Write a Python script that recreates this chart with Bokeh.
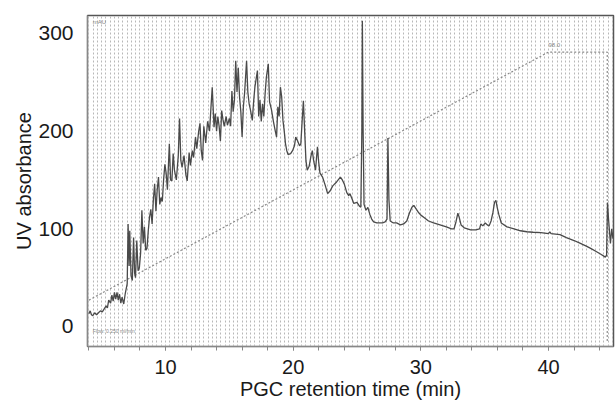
from bokeh.plotting import figure
from bokeh.models import Range1d, FixedTicker, ColumnDataSource
from bokeh.core.properties import value
from bokeh.embed import file_html
from bokeh.resources import INLINE

# ---- data ----
time_min = [
    4.0, 4.1, 4.2, 4.3, 4.45, 4.6, 4.75, 4.9, 5.05, 5.2, 5.35, 5.45, 5.55, 5.7, 5.8, 5.9,
    6.0, 6.1, 6.2, 6.3, 6.4, 6.5, 6.6, 6.73, 6.85, 7.0,
    7.07, 7.15, 7.2, 7.3, 7.4, 7.5, 7.58, 7.65, 7.75, 7.85, 7.95, 8.05, 8.15, 8.25, 8.35,
    8.45, 8.55, 8.65, 8.75, 8.85, 8.95, 9.05, 9.15, 9.25, 9.35, 9.45, 9.55, 9.65, 9.75,
    9.85, 9.95, 10.05, 10.15, 10.3, 10.4, 10.5, 10.6, 10.7, 10.85, 11.0, 11.1, 11.2, 11.3,
    11.45, 11.6, 11.7, 11.85, 11.95, 12.1, 12.2, 12.35, 12.45, 12.6, 12.7, 12.8, 12.9,
    13.0, 13.15, 13.3, 13.45, 13.55, 13.66, 13.8, 13.9, 14.0, 14.1, 14.2, 14.3, 14.4,
    14.5, 14.6, 14.75, 14.85, 15.0, 15.1, 15.2, 15.3, 15.4, 15.5, 15.6, 15.7, 15.8, 15.9,
    16.0, 16.1, 16.2, 16.35, 16.45, 16.55, 16.65, 16.8, 16.9, 17.0, 17.2, 17.3, 17.4,
    17.5, 17.6, 17.7, 17.8, 17.9, 18.05, 18.15, 18.3, 18.45, 18.6, 18.7, 18.8, 18.9,
    19.0, 19.1, 19.2, 19.3, 19.4, 19.5, 19.6, 19.8, 19.95, 20.1, 20.2, 20.35, 20.5,
    20.6, 20.7, 20.8, 20.9, 21.0, 21.1, 21.25, 21.4, 21.5, 21.6, 21.75, 21.9, 22.0,
    22.1, 22.3, 22.5, 22.7, 22.9, 23.1, 23.4, 23.7, 23.85, 24.0, 24.2, 24.35, 24.45,
    24.6, 24.75, 25.0, 25.2, 25.3, 25.38, 25.42, 25.48, 25.55, 25.7, 25.85, 26.0, 26.15,
    26.3, 26.55, 26.8, 27.0, 27.2, 27.35, 27.42, 27.5, 27.6, 27.85, 28.1, 28.4, 28.65,
    28.9, 29.1, 29.3, 29.45, 29.6, 29.8, 30.0, 30.3, 30.6, 31.0, 31.5, 32.0, 32.4, 32.6,
    32.75, 32.9, 33.0, 33.15, 33.4, 33.9, 34.3, 34.6, 34.7, 34.85, 35.05, 35.2, 35.35,
    35.5, 35.65, 35.77, 35.88, 35.98, 36.1, 36.3, 36.75, 37.3, 37.8, 38.3, 38.8, 39.4,
    40.0, 40.1, 40.2, 40.9, 41.4, 42.0, 42.5, 43.0, 43.3, 43.7, 44.1, 44.45, 44.55,
    44.62, 44.7, 44.85, 44.95, 45.05,
]
uv_abs = [
    13, 16, 12, 11, 14, 12, 14, 16, 15, 18, 21, 19, 27, 24, 32, 26,
    35, 28, 35, 27, 33, 24, 30, 23, 34, 44,
    105, 62, 98, 52, 47, 91, 55, 50, 88, 57, 60, 75, 119, 85, 102,
    78, 80, 98, 112, 120, 105, 130, 146, 118, 140, 153, 125, 132, 128,
    150, 166, 157, 140, 187, 150, 149, 177, 160, 150, 175, 213, 170, 163,
    175, 155, 149, 178, 165, 180, 173, 194, 182, 200, 208, 180, 170,
    205, 188, 210, 200, 222, 245, 204, 218, 200, 215, 205, 190, 221,
    212, 205, 215, 206, 213, 205, 241, 220, 232, 272, 240, 265, 235, 220,
    194, 225, 240, 272, 240, 228, 222, 211, 230, 245, 262, 215, 232,
    210, 228, 215, 238, 255, 269, 230, 222, 210, 200, 194, 225, 215,
    245, 235, 211, 200, 187, 180, 176, 177, 180, 185, 194, 190, 185,
    187, 210, 231, 200, 170, 160, 164, 175, 180, 170, 160, 184, 168,
    157, 153, 145, 136, 139, 144, 148, 153, 150, 146, 137, 134, 136,
    131, 126, 127, 123, 122, 200, 313, 200, 125, 119, 122, 115, 110,
    107, 106, 106, 106, 107, 110, 193, 130, 108, 106, 106, 104, 105,
    108, 116, 122, 124, 121, 117, 114, 111, 108, 106, 104, 102, 100, 100,
    107, 116, 112, 104, 101, 99, 99, 100, 105, 103, 106, 104, 103,
    108, 117, 127, 129, 122, 115, 106, 102, 100, 98, 97, 96.5, 96,
    95, 97, 95, 94, 91, 88, 85, 82, 80, 77, 74, 71, 73,
    127, 110, 85, 100, 90,
]

# gradient (%B) trace, drawn on the absorbance scale
gradient_time = [4.0, 40.0, 44.6, 44.6]
gradient_level = [27, 281, 281, -16]

x_tick_labels = [10, 20, 30, 40]
x_minor_ticks = list(range(4, 46, 2))
y_tick_labels = [0, 100, 200, 300]
grid_step_min = 1.0 / 3.0
x_title = "PGC retention time (min)"
y_title = "UV absorbance"

FONT = "Liberation Sans"

p = figure(width=616, height=403, output_backend="svg", toolbar_location=None,
           x_range=Range1d(3.89, 45.09), y_range=Range1d(-20.5, 318.4),
           min_border_left=87, min_border_right=3, min_border_top=15,
           min_border_bottom=57)
p.background_fill_color = "white"
p.border_fill_color = "white"
p.outline_line_color = "#555555"
p.outline_line_width = 1.5

# dense dotted vertical grid every 20 s
grid_ticks = [round(k * grid_step_min, 4) for k in range(12, 136)]
p.xgrid.ticker = FixedTicker(ticks=grid_ticks)
p.xgrid.grid_line_color = "#b8b8b8"
p.xgrid.grid_line_dash = "2 2"
p.xgrid.grid_line_width = 1
p.ygrid.grid_line_color = None

# x axis
p.xaxis.ticker = FixedTicker(ticks=x_tick_labels, minor_ticks=x_minor_ticks)
p.xaxis.axis_line_color = "#888888"
p.xaxis.major_tick_line_color = "#888888"
p.xaxis.minor_tick_line_color = "#888888"
p.xaxis.major_tick_in = 0
p.xaxis.major_tick_out = 4
p.xaxis.minor_tick_in = 0
p.xaxis.minor_tick_out = 4
p.xaxis.major_label_text_font = FONT
p.xaxis.major_label_text_font_size = "20px"
p.xaxis.major_label_text_color = "#1a1a1a"
p.xaxis.major_label_standoff = 9
p.xaxis.axis_label = x_title
p.xaxis.axis_label_text_font = FONT
p.xaxis.axis_label_text_font_size = "20px"
p.xaxis.axis_label_text_font_style = "normal"
p.xaxis.axis_label_text_color = "#1a1a1a"
p.xaxis.axis_label_standoff = 1

# y axis
p.yaxis.ticker = FixedTicker(ticks=y_tick_labels, minor_ticks=[])
p.yaxis.axis_line_color = "#888888"
p.yaxis.major_tick_line_color = None
p.yaxis.minor_tick_line_color = None
p.yaxis.major_label_text_font = FONT
p.yaxis.major_label_text_font_size = "21px"
p.yaxis.major_label_text_color = "#1a1a1a"
p.yaxis.major_label_standoff = 8
p.yaxis.axis_label = y_title
p.yaxis.axis_label_text_font = FONT
p.yaxis.axis_label_text_font_size = "20px"
p.yaxis.axis_label_text_font_style = "normal"
p.yaxis.axis_label_text_color = "#1a1a1a"
p.yaxis.axis_label_standoff = 0

# gradient dotted line
p.line(gradient_time, gradient_level, line_color="#8a8a8a", line_width=1.2,
       line_dash="2 2")

# chromatogram trace
src = ColumnDataSource(dict(t=time_min, v=uv_abs))
p.line("t", "v", source=src, line_color="#4a4a4a", line_width=1.3)

# small instrument annotations
p.text(x=[4.3], y=[309], text=["mAU"], text_font=value(FONT),
       text_font_size="6px", text_color="#888888")
p.text(x=[40.0], y=[286], text=["98.0"], text_font=value(FONT),
       text_font_size="6px", text_color="#888888")
p.text(x=[4.3], y=[-8], text=["Flow: 0.250 ml/min"], text_font=value(FONT),
       text_font_size="5px", text_color="#888888")

open("out.html", "w").write(file_html(p, INLINE))
